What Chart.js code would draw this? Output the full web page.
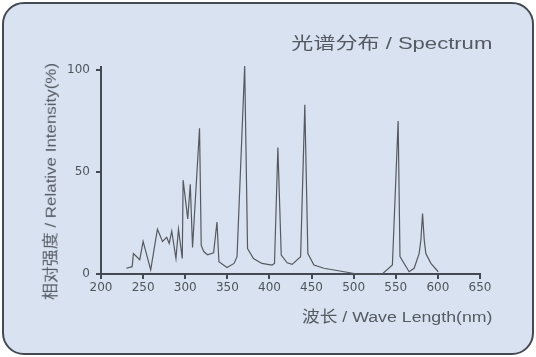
<!DOCTYPE html>
<html>
<head>
<meta charset="utf-8">
<script src="https://cdn.jsdelivr.net/npm/chart.js@4/dist/chart.umd.min.js"></script>
<style>
  html, body { margin:0; padding:0; background:#ffffff; }
  #wrap { position:relative; width:536px; height:357px; overflow:hidden; }
  #panel { position:absolute; left:2px; top:2px; width:532px; height:353px; box-sizing:border-box;
           border:2.5px solid #454a52; border-radius:22px; background:#d9e2f1; }
  canvas { position:absolute; left:0; top:0; }
  .lbl { position:absolute; left:0; top:0; white-space:nowrap; line-height:1; transform-origin:0 0;
         font-family:"Liberation Sans", Arial, "Noto Sans CJK SC", sans-serif; color:#555a62; }
</style>
</head>
<body>
<div id="wrap">
  <div id="panel"></div>
  <canvas id="c" width="536" height="357"></canvas>
  <div class="lbl" id="t1" style="font-size:17px">光谱分布 / Spectrum</div>
  <div class="lbl" id="t2" style="font-size:15.5px">波长 / Wave Length(nm)</div>
  <div class="lbl" id="t3" style="font-size:15.5px">相对强度 / Relative Intensity(%)</div>
</div>
<script>
// Data
const wavelength = [230,237,238.5,246,250,259,267,273,278,281,284,289,292,296.5,297.5,303,306,308.7,317,319,322,326.5,333.7,337.7,340,349.6,358,361.5,370.6,374,381,391,403,406,410,414,421,427,437,442,445.6,452.8,464.7,504,534,546,552.8,555,565.8,571.8,577.7,579.8,581.8,583.8,585.7,591.7,600.4];
const intensity  = [2.8,3.6,10,7,16,2,22,16,18,15,21,7.6,22,7.6,46,27,44,13,71.5,14,11,9.4,10.4,25.5,6,3.2,5.2,8.5,102,12.5,7.6,5.2,4.4,5.2,62,9.3,5.5,4.7,8.5,83,10,4.4,2.8,0,0,4.4,75,8.5,1.1,2.8,10,16.6,29.6,16.6,10,5.2,1.1];
const xTicks = [200,250,300,350,400,450,500,550,600,650];
const yTicks = [0,50,100];

const points = wavelength.map((w, i) => ({ x: w, y: intensity[i] }));
const axisColor = '#454a52';
const tickFont = { family: 'DejaVu Sans', size: 12 };

new Chart(document.getElementById('c'), {
  type: 'scatter',
  data: { datasets: [{
    data: points, showLine: true, borderColor: '#56595f', borderWidth: 1.2,
    pointRadius: 0, tension: 0, clip: false, fill: false
  }]},
  options: {
    responsive: false, animation: false, devicePixelRatio: 1,
    layout: { padding: { left: 0, top: 67, right: 56, bottom: 0 } },
    plugins: { legend: { display: false }, tooltip: { enabled: false } },
    scales: {
      x: {
        type: 'linear', min: xTicks[0], max: xTicks[xTicks.length - 1],
        afterBuildTicks: s => { s.ticks = xTicks.map(v => ({ value: v })); },
        afterFit: s => { s.height = 83; },
        ticks: { font: tickFont, color: '#50555c', padding: 2, maxRotation: 0 },
        grid: { drawOnChartArea: false, drawTicks: true, tickLength: 5, color: axisColor, lineWidth: 2 },
        border: { color: axisColor, width: 2 }
      },
      y: {
        type: 'linear', min: 0, max: 101.5,
        afterBuildTicks: s => { s.ticks = yTicks.map(v => ({ value: v })); },
        afterFit: s => { s.width = 101; },
        ticks: { font: tickFont, color: '#50555c', padding: 6 },
        grid: { drawOnChartArea: false, drawTicks: true, tickLength: 5, color: axisColor, lineWidth: 2 },
        border: { color: axisColor, width: 2 }
      }
    }
  }
});

// place text labels, stretched to the reference widths
function place(id, cx, cy, len, rot) {
  const el = document.getElementById(id);
  const w = el.offsetWidth;
  const s = len / w;
  el.style.transform = `translate(${cx}px, ${cy}px) rotate(${rot}deg) scale(${s}, 1) translate(-50%, -50%)`;
}
place('t1', 391.8, 43.8, 201, 0);
place('t2', 397.2, 317.0, 191, 0);
place('t3', 50.5, 181.5, 237, -90);
</script>
</body>
</html>
